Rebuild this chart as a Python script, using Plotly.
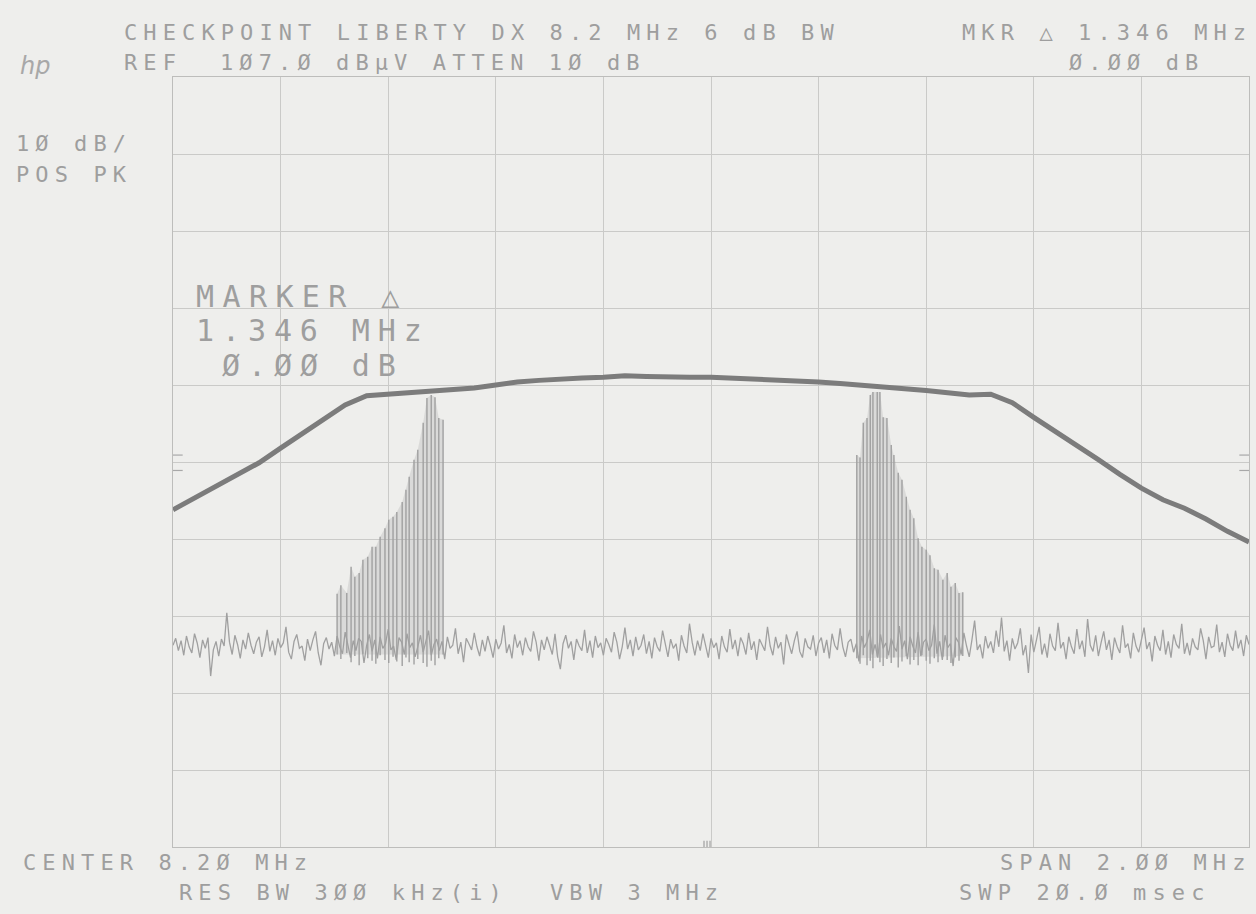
import plotly.graph_objects as go

# ---------------- instrument settings ----------------
START_MHZ = 7.2
STOP_MHZ = 9.2
REF_DBUV = 107.0
BOTTOM_DBUV = 7.0

# ---------------- filter response (thick trace), 0.04 MHz steps ----------------
filter_db = [
    50.8, 52.3, 53.9, 55.4, 56.9, 58.8, 60.7, 62.6, 64.4, 65.6,
    65.8, 66.0, 66.2, 66.4, 66.6, 67.0, 67.4, 67.6, 67.8, 67.9,
    68.0, 68.2, 68.1, 68.0, 68.0, 68.0, 67.9, 67.8, 67.6, 67.5,
    67.4, 67.2, 67.0, 66.7, 66.5, 66.3, 66.0, 65.7, 65.8, 64.7,
    62.8, 61.0, 59.2, 57.3, 55.4, 53.6, 52.1, 51.0, 49.6, 48.0,
    46.6,
]

# ---------------- noise floor trace, 0.005 MHz steps (401 points) ----------------
noise_db = [
    33.2, 34.1, 32.5, 33.8, 31.9, 34.4, 33.0, 32.2, 34.7, 33.5, 31.6, 33.9, 32.8, 34.2, 29.2, 32.6, 33.7, 31.8, 34.0, 33.1,
    37.4, 33.6, 32.0, 34.5, 33.3, 31.5, 33.9, 32.7, 34.8, 33.2, 32.1, 33.6, 34.3, 31.7, 33.0, 35.2, 32.4, 33.8, 31.9, 34.1,
    32.9, 33.5, 35.6, 32.3, 31.4, 33.7, 34.6, 32.8, 33.1, 31.2, 34.0, 32.5, 33.9, 35.0, 32.2, 30.6, 33.4, 34.2, 32.7, 33.6,
    31.8, 34.4, 33.0, 32.1, 34.9, 33.3, 31.6, 33.8, 32.5, 34.1, 33.7, 30.9, 33.2, 34.6, 32.4, 33.9, 31.5, 34.3, 32.8, 33.4,
    35.3, 32.6, 33.1, 31.3, 34.2, 33.6, 32.0, 34.7, 32.9, 33.5, 31.7, 33.0, 34.5, 32.3, 33.8, 35.1, 31.9, 33.3, 34.0, 32.5,
    33.7, 31.4, 34.3, 32.8, 33.2, 35.4, 32.1, 33.6, 31.0, 34.1, 33.4, 32.6, 34.8, 33.0, 31.8, 33.9, 32.4, 34.4, 33.1, 31.6,
    34.0, 32.7, 33.5, 35.8, 32.2, 33.3, 31.5, 34.6, 32.9, 33.8, 31.9, 34.2, 33.0, 32.4, 35.0, 33.6, 31.2, 33.9, 32.6, 34.3,
    33.2, 32.0, 34.7, 31.7, 30.1, 33.4, 34.5, 32.8, 33.7, 31.3, 34.0, 33.1, 32.5, 35.2, 32.2, 33.8, 31.6, 34.4, 32.9, 33.5,
    31.9, 34.1, 33.3, 32.3, 34.9, 33.6, 31.4, 33.0, 35.5, 32.7, 33.9, 31.8, 34.3, 32.6, 33.2, 34.6, 32.1, 33.7, 31.5, 34.2,
    33.0, 32.4, 35.1, 33.5, 31.7, 34.0, 32.8, 33.4, 31.2, 34.5, 33.1, 32.2, 36.0, 33.6, 31.9, 33.8, 32.5, 34.7, 33.3, 31.6,
    34.1, 32.9, 33.5, 31.4, 34.4, 33.0, 32.3, 35.3, 32.7, 33.9, 31.8, 34.2, 33.4, 32.0, 34.8, 32.6, 33.7, 31.3, 34.0, 33.2,
    32.5, 35.6, 33.1, 31.9, 34.3, 32.8, 33.6, 30.7, 34.6, 33.3, 32.1, 33.8, 35.0, 32.4, 31.6, 34.1, 33.0, 32.7, 34.5, 31.8,
    33.5, 34.2, 32.2, 33.9, 31.5, 34.7, 33.2, 32.6, 35.4, 33.0, 31.7, 33.6, 34.0, 32.3, 33.4, 31.1, 34.4, 32.9, 33.7, 35.2,
    32.0, 33.3, 31.6, 34.6, 32.8, 33.5, 31.9, 34.1, 33.0, 32.4, 35.7, 32.7, 33.8, 31.4, 34.3, 33.1, 32.2, 34.9, 31.8, 33.6,
    34.0, 32.5, 33.2, 35.9, 32.1, 33.7, 31.3, 34.5, 32.9, 33.4, 30.5, 34.2, 33.6, 32.0, 34.8, 33.1, 31.7, 33.9, 36.4, 32.6,
    33.3, 31.5, 34.4, 32.8, 33.7, 32.2, 35.1, 33.0, 36.8, 32.4, 33.8, 31.2, 34.1, 32.7, 33.5, 35.4, 31.9, 33.2, 29.6, 34.6,
    32.3, 33.9, 35.6, 32.0, 33.4, 31.6, 34.7, 33.1, 32.5, 36.1, 32.8, 33.6, 31.4, 34.3, 33.0, 32.1, 35.3, 32.7, 33.8, 31.7,
    36.6, 33.2, 32.4, 34.5, 31.8, 33.5, 35.0, 32.6, 33.9, 31.3, 34.2, 33.0, 32.2, 35.8, 32.9, 33.4, 31.5, 34.8, 33.1, 32.3,
    34.0, 35.5, 32.7, 33.6, 31.1, 34.4, 33.2, 32.5, 35.2, 32.0, 33.7, 31.6, 34.6, 33.3, 32.8, 36.0, 32.1, 33.5, 31.9, 34.1,
    33.0, 32.6, 35.4, 33.8, 31.4, 34.3, 32.9, 33.1, 35.9, 32.3, 33.6, 31.7, 34.7, 33.2, 32.5, 35.1, 32.8, 33.9, 31.8, 34.5,
    33.3,
]

# ---------------- comb signals (line frequency, peak, bottom) ----------------
comb_left_mhz = [
    7.505, 7.512, 7.523, 7.531, 7.538, 7.546, 7.553, 7.562, 7.570, 7.577,
    7.585, 7.594, 7.601, 7.609, 7.616, 7.626, 7.633, 7.639, 7.648, 7.655,
    7.665, 7.672, 7.680, 7.687, 7.694, 7.702,
]
comb_left_peak = [
    39.9, 41.0, 40.0, 43.4, 42.1, 42.6, 44.3, 44.7, 46.0, 46.0,
    47.3, 48.4, 49.5, 49.9, 50.5, 51.8, 53.4, 55.1, 57.3, 58.6,
    62.1, 65.3, 65.7, 65.4, 62.7, 62.5,
]
comb_left_bottom = [
    32.0, 31.4, 32.2, 31.0, 31.8, 30.6, 32.1, 31.5, 31.2, 30.8,
    31.9, 31.3, 30.9, 31.7, 31.1, 30.5, 31.6, 31.0, 30.7, 31.4,
    30.9, 30.4, 31.2, 30.6, 31.5, 32.0,
]
comb_right_mhz = [
    8.471, 8.477, 8.483, 8.490, 8.496, 8.501, 8.509, 8.514, 8.520, 8.527,
    8.535, 8.540, 8.548, 8.555, 8.563, 8.570, 8.577, 8.585, 8.592, 8.600,
    8.607, 8.615, 8.622, 8.631, 8.639, 8.646, 8.654, 8.661, 8.668,
]
comb_right_peak = [
    57.9, 57.6, 62.1, 62.7, 65.7, 66.1, 66.1, 66.1, 62.8, 62.7,
    59.2, 57.9, 55.6, 54.7, 52.5, 50.8, 49.7, 47.1, 46.0, 45.6,
    44.9, 43.2, 43.0, 41.7, 42.6, 40.8, 41.3, 40.0, 40.1,
]
comb_right_bottom = [
    31.5, 30.8, 31.9, 30.6, 31.2, 30.2, 31.7, 31.0, 30.5, 31.4,
    30.9, 31.6, 30.3, 31.1, 31.8, 30.7, 31.3, 30.6, 31.9, 31.2,
    30.8, 31.5, 31.0, 31.7, 31.3, 30.9, 31.6, 31.2, 31.8,
]

# ---------------- derived sweep grids ----------------
filter_freq = [START_MHZ + i * (STOP_MHZ - START_MHZ) / (len(filter_db) - 1) for i in range(len(filter_db))]
noise_freq = [START_MHZ + i * (STOP_MHZ - START_MHZ) / (len(noise_db) - 1) for i in range(len(noise_db))]

TEXT_COL = "#9e9e9e"
TRACE_COL = "#7c7c7c"
NOISE_COL = "#a0a0a0"
GRID_COL = "#cacac8"
BG = "#eeeeec"

fig = go.Figure()


def comb_traces(freqs, peaks, bottoms):
    # light stipple fill under the envelope
    fx = [freqs[0]] + freqs + [freqs[-1]]
    fy = [bottoms[0]] + peaks + [bottoms[-1]]
    fig.add_trace(go.Scatter(x=fx, y=fy, mode="lines", line=dict(width=0),
                             fill="toself", fillcolor="rgba(150,150,150,0.22)",
                             hoverinfo="skip", showlegend=False))
    lx, ly = [], []
    for f, p, b in zip(freqs, peaks, bottoms):
        lx += [f, f, None]
        ly += [b, p, None]
    fig.add_trace(go.Scatter(x=lx, y=ly, mode="lines",
                             line=dict(color=NOISE_COL, width=1.4),
                             hoverinfo="skip", showlegend=False))


comb_traces(comb_left_mhz, comb_left_peak, comb_left_bottom)
comb_traces(comb_right_mhz, comb_right_peak, comb_right_bottom)

fig.add_trace(go.Scatter(x=noise_freq, y=noise_db, mode="lines",
                         line=dict(color=NOISE_COL, width=1.3),
                         showlegend=False, name="noise"))
fig.add_trace(go.Scatter(x=filter_freq, y=filter_db, mode="lines",
                         line=dict(color=TRACE_COL, width=5),
                         showlegend=False, name="filter"))

# ---------------- text (plotter style) ----------------
L, T, W, H = 173, 77, 1076, 770


def txt(s, px, py, size=22, pitch=19.3, italic=False):
    adv = 0.602 * size
    sp = pitch - adv
    fig.add_annotation(
        x=(px - L) / W, y=(T + H - py) / H, xref="paper", yref="paper",
        xanchor="left", yanchor="middle", showarrow=False,
        text=f'<span style="letter-spacing:{sp:.1f}px">{s}</span>',
        font=dict(family="DejaVu Sans Mono", size=size, color=TEXT_COL,
                  style="italic" if italic else "normal"),
    )


txt("CHECKPOINT LIBERTY DX 8.2 MHz 6 dB BW", 122, 33)
txt("MKR △ 1.346 MHz", 960, 33)
txt("REF", 122, 62)
txt("1Ø7.Ø dBμV ATTEN 1Ø dB", 218, 62)
txt("Ø.ØØ dB", 1067, 62)
txt("1Ø dB/", 14, 143)
txt("POS PK", 14, 174)
txt("MARKER △", 194, 296, size=30, pitch=26.5)
txt("1.346 MHz", 194, 330, size=30, pitch=26.0)
txt("Ø.ØØ dB", 220, 366, size=30, pitch=26.0)
txt("CENTER 8.2Ø MHz", 21, 862)
txt("RES BW 3ØØ kHz(i)", 177, 893)
txt("VBW 3 MHz", 548, 893)
txt("SPAN 2.ØØ MHz", 998, 862)
txt("SWP 2Ø.Ø msec", 957, 893)

fig.add_annotation(x=(18 - L) / W, y=(T + H - 66) / H, xref="paper", yref="paper",
                   xanchor="left", yanchor="middle", showarrow=False, text="hp",
                   font=dict(family="DejaVu Sans", size=24, color="#a8a8a8", style="italic"))

# small display-line marks at both edges and center marks at bottom
for yv in (57.9, 55.9):
    fig.add_shape(type="line", xref="x domain", yref="y", x0=0, x1=0.009, y0=yv, y1=yv,
                  line=dict(color="#a8a8a8", width=1.2))
    fig.add_shape(type="line", xref="x domain", yref="y", x0=0.991, x1=1, y0=yv, y1=yv,
                  line=dict(color="#a8a8a8", width=1.2))
for xv in (0.4935, 0.4963, 0.4991):
    fig.add_shape(type="line", xref="x domain", yref="y", x0=xv, x1=xv, y0=BOTTOM_DBUV, y1=BOTTOM_DBUV + 0.8,
                  line=dict(color="#a0a0a0", width=1.2))

fig.update_layout(
    width=1256, height=914,
    margin=dict(l=L, r=1256 - L - W, t=T, b=914 - T - H),
    paper_bgcolor=BG, plot_bgcolor=BG,
    showlegend=False,
)
fig.update_xaxes(range=[START_MHZ, STOP_MHZ], tick0=START_MHZ, dtick=0.2,
                 showgrid=True, gridcolor=GRID_COL, gridwidth=1,
                 showline=True, linecolor="#bdbdbb", linewidth=1, mirror=True,
                 showticklabels=False, ticks="", zeroline=False, fixedrange=True)
fig.update_yaxes(range=[BOTTOM_DBUV, REF_DBUV], tick0=BOTTOM_DBUV, dtick=10,
                 showgrid=True, gridcolor=GRID_COL, gridwidth=1,
                 showline=True, linecolor="#bdbdbb", linewidth=1, mirror=True,
                 showticklabels=False, ticks="", zeroline=False, fixedrange=True)

fig.write_html(
    "out.html",
    config={"displayModeBar": False},
    post_script="document.body.style.margin='0';document.body.style.overflow='hidden';"
                "document.body.style.background='" + BG + "';",
)
